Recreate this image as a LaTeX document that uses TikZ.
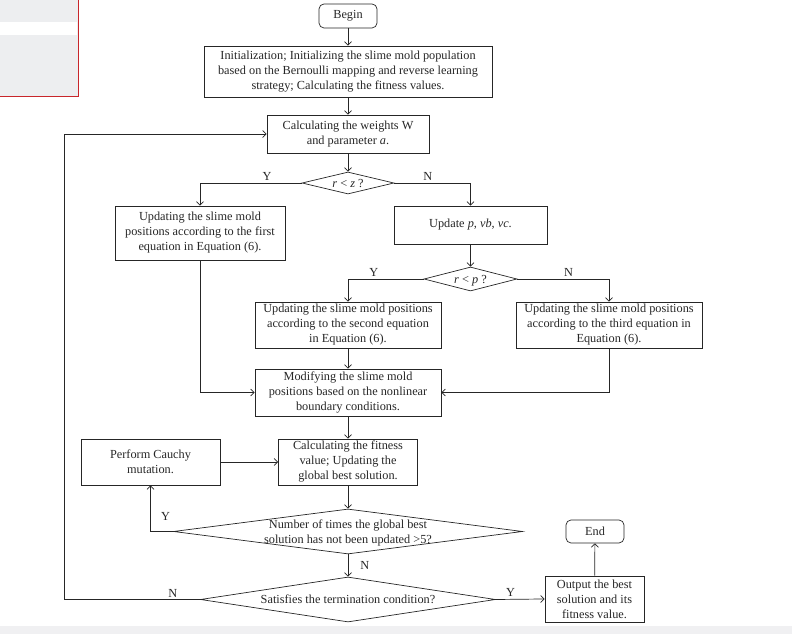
\documentclass[tikz,border=0pt]{standalone}
\usepackage{fontspec}
\setmainfont{Liberation Serif}
\usetikzlibrary{arrows.meta,shapes.geometric}
\definecolor{ink}{HTML}{262626}
\definecolor{shot}{HTML}{EDEEF0}
\definecolor{shotedge}{HTML}{C8262B}
\definecolor{strip}{HTML}{F0F0F2}
\newcommand{\dtext}[1]{\smash{\makebox[0pt]{\raisebox{-4.5pt}{\begin{tabular}{@{}c@{}}#1\end{tabular}}}}}

\begin{document}
\begin{tikzpicture}[
  font=\fontsize{12.3}{15}\selectfont,
  text=ink,
  box/.style={
    draw=ink,
    line width=0.7pt,
    align=center,
    inner sep=2pt
  },
  terminal/.style={box, rounded corners=5pt},
  decision/.style={
    diamond,
    draw=ink,
    line width=0.7pt,
    inner sep=0pt
  },
  arrow/.style={-{Straight Barb[length=3.5pt,width=7pt]}, line width=0.7pt, draw=ink},
  lbl/.style={inner sep=2pt}
]
\useasboundingbox (0,0) rectangle (27.836,-22.283);

% screenshot leftovers
\draw[fill=shot, draw=shotedge, line width=0.8pt] (-0.1,0.1) rectangle (2.76,-3.39);
\fill[white] (0,-0.77) rectangle (2.70,-1.23);
\fill[strip] (0,-22.0) rectangle (27.836,-22.283);

\node[terminal, minimum width=58pt, minimum height=24pt] (begin) at (12.231,-0.562) {Begin};
\node[box, minimum width=288pt, minimum height=51pt] (init) at (12.231,-2.513) {Initialization; Initializing the slime mold population\\based on the Bernoulli mapping and reverse learning\\strategy; Calculating the fitness values.};
\node[box, minimum width=162pt, minimum height=38pt] (weights) at (12.231,-4.710) {Calculating the weights W\\and parameter \textit{a}.};
\node[decision, minimum width=92pt, minimum height=22pt] (rz) at (12.231,-6.432) {\dtext{\textit{r} < \textit{z} ?}};

\node[box, minimum width=170pt, minimum height=54pt] (first) at (7.029,-8.189) {Updating the slime mold\\positions according to the first\\equation in Equation (6).};
\node[box, minimum width=153pt, minimum height=38pt] (update) at (16.536,-7.908) {Update \textit{p}, \textit{vb}, \textit{vc}.};
\node[decision, minimum width=93pt, minimum height=24pt] (rp) at (16.536,-9.806) {\dtext{\textit{r} < \textit{p} ?}};

\node[box, minimum width=186pt, minimum height=46pt] (second) at (12.231,-11.422) {Updating the slime mold positions\\according to the second equation\\in Equation (6).};
\node[box, minimum width=186pt, minimum height=46pt] (third) at (21.404,-11.422) {Updating the slime mold positions\\according to the third equation in\\Equation (6).};
\node[box, minimum width=186pt, minimum height=47pt] (modify) at (12.231,-13.795) {Modifying the slime mold\\positions based on the nonlinear\\boundary conditions.};

\node[box, minimum width=139pt, minimum height=46pt] (fitness) at (12.231,-16.237) {Calculating the fitness\\value; Updating the\\global best solution.};
\node[box, minimum width=139pt, minimum height=46pt] (cauchy) at (5.290,-16.237) {Perform Cauchy\\mutation.};
\node[decision, minimum width=349pt, minimum height=45pt] (stall) at (12.231,-18.680) {\dtext{Number of times the global best\\solution has not been updated >5?}};
\node[decision, minimum width=295pt, minimum height=45pt] (term) at (12.231,-21.070) {\dtext{Satisfies the termination condition?}};

\node[box, minimum width=99pt, minimum height=46pt] (output) at (20.894,-21.052) {Output the best\\solution and its\\fitness value.};
\node[terminal, minimum width=58pt, minimum height=23pt] (end) at (20.912,-18.680) {End};

\coordinate (loop) at (2.249,-21.070);

\draw[arrow] (begin) -- (init);
\draw[arrow] (init) -- (weights);
\draw[arrow] (weights) -- (rz);
\draw[arrow] (rz.west) -| node[lbl, above, pos=0.17] {Y} (first.north);
\draw[arrow] (rz.east) -| node[lbl, above, pos=0.22] {N} (update.north);
\draw[arrow] (update) -- (rp);
\draw[arrow] (rp.west) -| node[lbl, above, pos=0.33] {Y} (second.north);
\draw[arrow] (rp.east) -| node[lbl, above, pos=0.28] {N} (third.north);
\draw[arrow] (second) -- (modify);
\draw[arrow] (first.south) |- (modify.west);
\draw[arrow] (third.south) |- (modify.east);
\draw[arrow] (modify) -- (fitness);
\draw[arrow] (cauchy) -- (fitness);
\draw[arrow] (fitness) -- (stall);
\draw[arrow] (stall.west) -| node[lbl, pos=0.5, xshift=15pt, yshift=15pt] {Y} (cauchy.south);
\draw[arrow] (stall) -- node[lbl, right, pos=0.5, xshift=10pt] {N} (term);
\draw[arrow] (term.west) -- node[lbl, above, pos=0.2] {N} (loop) |- (weights.west);
\draw[arrow] (term.east) -- node[lbl, above, pos=0.3] {Y} (output.west);
\draw[arrow] (output) -- (end);

\end{tikzpicture}
\end{document}
